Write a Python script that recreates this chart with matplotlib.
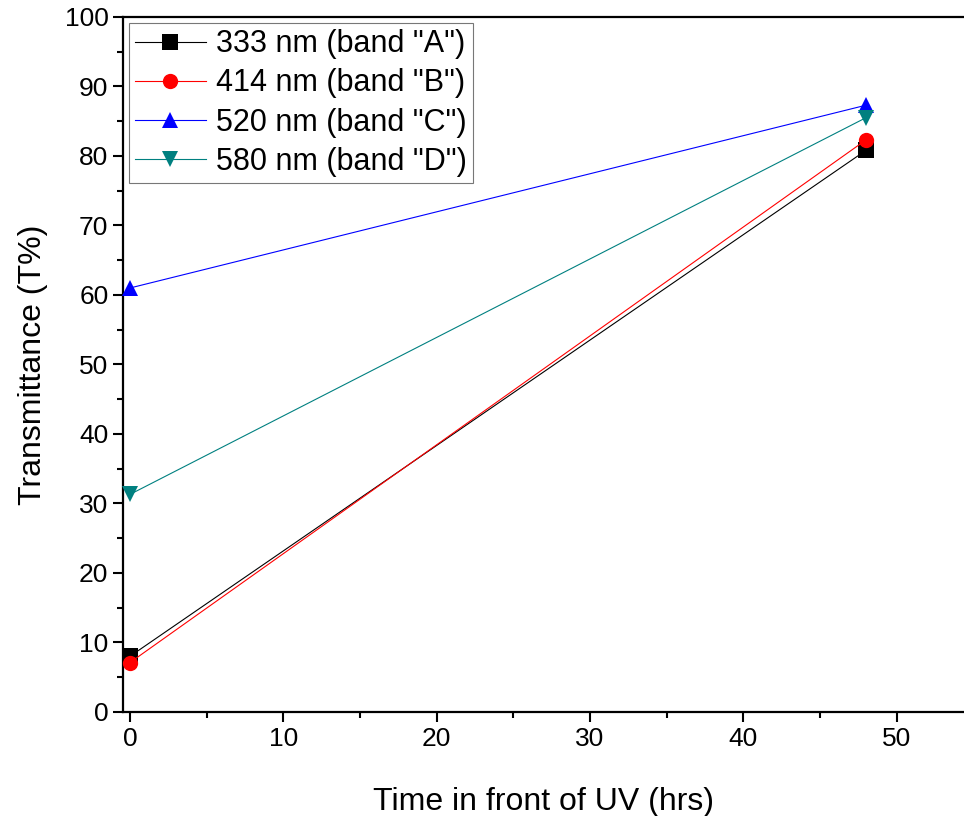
import matplotlib.pyplot as plt
from matplotlib.ticker import MultipleLocator

plt.rcParams["font.family"] = ["Liberation Sans", "DejaVu Sans"]

# data
hours = [0, 48]
band_a = [8.0, 80.8]
band_b = [7.1, 82.3]
band_c = [61.0, 87.3]
band_d = [31.3, 85.5]

labels = ['333 nm (band "A")', '414 nm (band "B")', '520 nm (band "C")', '580 nm (band "D")']
colors = ["black", "red", "blue", "#008080"]
markers = ["s", "o", "^", "v"]

fig = plt.figure(figsize=(9.64, 8.16), dpi=100)
ax = fig.add_axes([0.1276, 0.1275, 0.8724, 0.8517])

for values, label, color, marker in zip([band_a, band_b, band_c, band_d], labels, colors, markers):
    ax.plot(hours, values, color=color, lw=0.8, marker=marker, markersize=11,
            markeredgewidth=0, label=label, clip_on=False, zorder=3)

ax.set_xlim(-0.45, 54.4)
ax.set_ylim(0, 100)
ax.xaxis.set_major_locator(MultipleLocator(10))
ax.xaxis.set_minor_locator(MultipleLocator(5))
ax.yaxis.set_major_locator(MultipleLocator(10))
ax.yaxis.set_minor_locator(MultipleLocator(5))
ax.tick_params(which="major", direction="out", length=7, width=1.5, labelsize=19)
ax.tick_params(which="minor", direction="out", length=4, width=1.5)
ax.spines["right"].set_visible(False)
for side in ["left", "bottom", "top"]:
    ax.spines[side].set_linewidth(1.6)

ax.set_xlabel("Time in front of UV (hrs)", fontsize=23, labelpad=26)
ax.set_ylabel("Transmittance (T%)", fontsize=23, labelpad=12)

leg = ax.legend(loc="upper left", fontsize=22, frameon=True, fancybox=False,
                edgecolor="#555555", borderpad=0.2, labelspacing=0.3,
                handlelength=2.3, handletextpad=0.35, borderaxespad=0.2)
leg.get_frame().set_linewidth(0.8)

fig.savefig("out.png", dpi=100)
